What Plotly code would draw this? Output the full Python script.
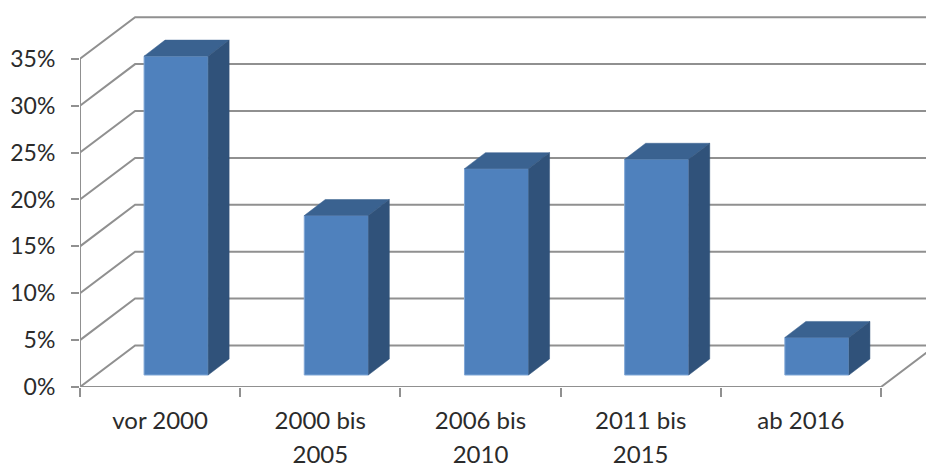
import plotly.graph_objects as go

# Data
categories_line1 = ["vor 2000", "2000 bis", "2006 bis", "2011 bis", "ab 2016"]
categories_line2 = ["", "2005", "2010", "2015", ""]
values = [34, 17, 22, 23, 4]
y_ticks = [0, 5, 10, 15, 20, 25, 30, 35]
y_labels = ["0%", "5%", "10%", "15%", "20%", "25%", "30%", "35%"]

# Pseudo-3D projection, in axis units
WALL_DX, WALL_DY = 0.344, 4.43
BAR_DX, BAR_DY = 0.1, 1.28
DEPTH_DX, DEPTH_DY = 0.131, 1.71
BAR_W = 0.4
X0, X1 = -0.5, 4.5
X_RANGE = [-0.5, 4.781]
Y_RANGE = [0, 40.2]

FRONT, TOP, SIDE = "#4F81BD", "#3A6290", "#30527A"
GRID = "#909090"
TEXT = "#2B2B2B"
FONT = "Lato"

pos = list(range(len(values)))
fig = go.Figure()

# Wall and floor lines
gx, gy = [], []
for t in y_ticks:
    gx += [X0, X0 + WALL_DX, X_RANGE[1] + 1, None]
    gy += [t, t + WALL_DY, t + WALL_DY, None]
fig.add_trace(go.Scatter(x=gx, y=gy, mode="lines", line=dict(color=GRID, width=2),
                         hoverinfo="skip", showlegend=False))
# Front axis lines and right floor edge
fig.add_trace(go.Scatter(x=[X0, X0, None, X0, X1, X1 + WALL_DX],
                         y=[y_ticks[-1], 0, None, 0, 0, WALL_DY],
                         mode="lines", line=dict(color=GRID, width=2),
                         cliponaxis=False, hoverinfo="skip", showlegend=False))

# Bars on the overlaid axes, so they sit above the wall lines
fig.add_trace(go.Bar(x=[p + BAR_DX for p in pos], y=values, base=BAR_DY, width=BAR_W,
                     marker=dict(color=FRONT, line=dict(color="#7FA6D6", width=1)),
                     xaxis="x2", yaxis="y2", showlegend=False,
                     hovertemplate="%{y}%<extra></extra>"))
for p, v in zip(pos, values):
    l = p + BAR_DX - BAR_W / 2
    r = p + BAR_DX + BAR_W / 2
    b = BAR_DY
    t = BAR_DY + v
    fig.add_trace(go.Scatter(x=[l, r, r + DEPTH_DX, l + DEPTH_DX, l],
                             y=[t, t, t + DEPTH_DY, t + DEPTH_DY, t],
                             fill="toself", fillcolor=TOP, mode="lines", line=dict(color=TOP, width=0.5),
                             xaxis="x2", yaxis="y2", hoverinfo="skip", showlegend=False))
    fig.add_trace(go.Scatter(x=[r, r + DEPTH_DX, r + DEPTH_DX, r, r],
                             y=[b, b + DEPTH_DY, t + DEPTH_DY, t, b],
                             fill="toself", fillcolor=SIDE, mode="lines", line=dict(color=SIDE, width=0.5),
                             xaxis="x2", yaxis="y2", hoverinfo="skip", showlegend=False))

x_font = dict(family=FONT, size=24, color=TEXT)
y_font = dict(family=FONT, size=23, color=TEXT)
fig.update_layout(
    width=926, height=463,
    margin=dict(l=80, r=0, t=10, b=76, autoexpand=False),
    paper_bgcolor="white", plot_bgcolor="white",
    showlegend=False,
    xaxis=dict(range=X_RANGE, tickmode="array", tickvals=pos, ticktext=categories_line1,
               ticks="", showgrid=False, zeroline=False, showline=False, automargin=False,
               tickfont=x_font, ticklabelstandoff=17, tickangle=0,
               minor=dict(ticks="outside", ticklen=9, tickwidth=2, tickcolor=GRID,
                          tickvals=[X0 + i for i in range(6)], showgrid=False)),
    yaxis=dict(range=Y_RANGE, tickmode="array", tickvals=y_ticks, ticktext=y_labels,
               ticks="outside", ticklen=8, tickwidth=2, tickcolor=GRID, automargin=False,
               showgrid=False, zeroline=False, showline=False, tickfont=y_font,
               ticklabelstandoff=11),
    xaxis2=dict(range=X_RANGE, overlaying="x", anchor="y2", side="bottom",
                tickmode="array", tickvals=pos, ticktext=categories_line2, automargin=False,
                ticks="", showgrid=False, zeroline=False, showline=False,
                tickfont=x_font, ticklabelstandoff=51, tickangle=0),
    yaxis2=dict(range=Y_RANGE, overlaying="y", anchor="x2", visible=False),
)
fig.write_html("out.html", config={"displayModeBar": False},
               post_script="document.body.style.margin='0';")
